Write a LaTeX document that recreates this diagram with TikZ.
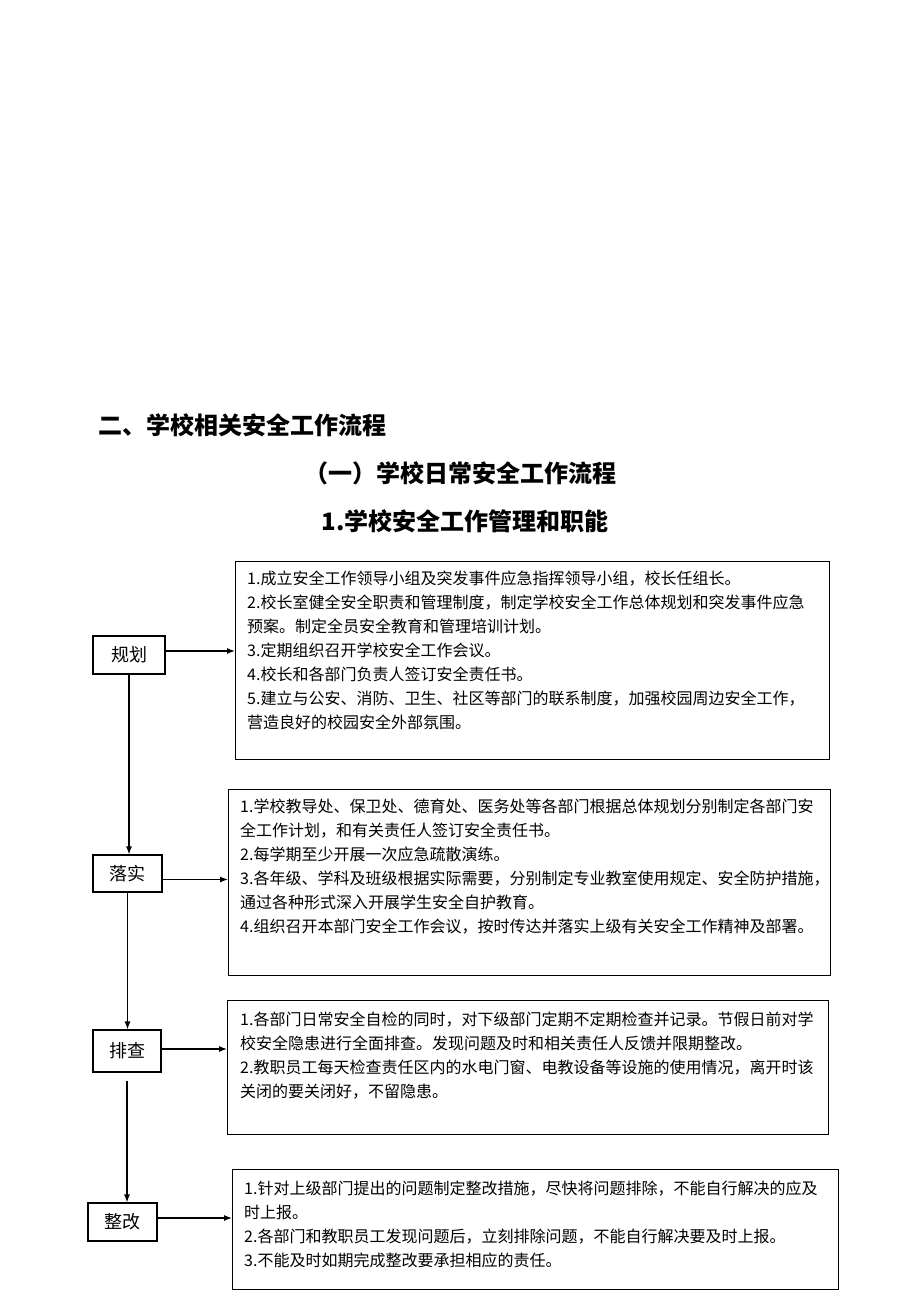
\documentclass[tikz,border=0pt]{standalone}
\usepackage{fontspec}
\setmainfont{Noto Sans CJK SC}
\usepackage{tikz}
\usetikzlibrary{arrows.meta}

\begin{document}
\begin{tikzpicture}[x=1pt,y=-1pt]
          \tikzstyle{head} = [inner sep=0pt, font=\fontsize{24}{28}\selectfont\bfseries]
          \tikzstyle{stage} = [rectangle, draw, line width=1.2pt, inner sep=0pt, font=\fontsize{18}{20}\selectfont]
          \tikzstyle{frame} = [rectangle, draw, line width=1.2pt, anchor=north west, inner sep=0pt]
          \tikzstyle{txt} = [anchor=north west, inner sep=0pt, align=left, font=\fontsize{16}{24}\selectfont]
          \tikzstyle{go} = [line width=1.2pt, -{Latex[length=8pt,width=6pt]}]
        \useasboundingbox (0,0) rectangle (920,1302);
        \node[head, anchor=west] (h1) at (98,425) {二、学校相关安全工作流程};
        \node[head] (h2) at (460,473) {（一）学校日常安全工作流程};
        \node[head] (h3) at (465,521) {1.学校安全工作管理和职能};
        \node[stage, minimum width=72pt, minimum height=38pt] (1) at (129,655) {规划};
        \node[stage, minimum width=69pt, minimum height=37pt] (2) at (127.5,873.5) {落实};
        \node[stage, minimum width=68pt, minimum height=42pt] (3) at (127,1051) {排查};
        \node[stage, minimum width=69pt, minimum height=38pt] (4) at (122.5,1222) {整改};
        \node[frame, minimum width=594pt, minimum height=198pt] (5) at (235,561) {};
        \node[frame, minimum width=602pt, minimum height=186pt] (6) at (228,789) {};
        \node[frame, minimum width=601pt, minimum height=134pt] (7) at (227,1000) {};
        \node[frame, minimum width=606pt, minimum height=120pt] (8) at (232,1169) {};
        \node[txt] (t5) at ([shift={(12,10)}]5.north west) {1.成立安全工作领导小组及突发事件应急指挥领导小组，校长任组长。\\
          2.校长室健全安全职责和管理制度，制定学校安全工作总体规划和突发事件应急\\
          预案。制定全员安全教育和管理培训计划。\\
          3.定期组织召开学校安全工作会议。\\
          4.校长和各部门负责人签订安全责任书。\\
          5.建立与公安、消防、卫生、社区等部门的联系制度，加强校园周边安全工作，\\
          营造良好的校园安全外部氛围。};
        \node[txt] (t6) at ([shift={(12,10)}]6.north west) {1.学校教导处、保卫处、德育处、医务处等各部门根据总体规划分别制定各部门安\\
          全工作计划，和有关责任人签订安全责任书。\\
          2.每学期至少开展一次应急疏散演练。\\
          3.各年级、学科及班级根据实际需要，分别制定专业教室使用规定、安全防护措施，\\
          通过各种形式深入开展学生安全自护教育。\\
          4.组织召开本部门安全工作会议，按时传达并落实上级有关安全工作精神及部署。};
        \node[txt] (t7) at ([shift={(13,12)}]7.north west) {1.各部门日常安全自检的同时，对下级部门定期不定期检查并记录。节假日前对学\\
          校安全隐患进行全面排查。发现问题及时和相关责任人反馈并限期整改。\\
          2.教职员工每天检查责任区内的水电门窗、电教设备等设施的使用情况，离开时该\\
          关闭的要关闭好，不留隐患。};
        \node[txt] (t8) at ([shift={(12,12)}]8.north west) {1.针对上级部门提出的问题制定整改措施，尽快将问题排除，不能自行解决的应及\\
          时上报。\\
          2.各部门和教职员工发现问题后，立刻排除问题，不能自行解决要及时上报。\\
          3.不能及时如期完成整改要承担相应的责任。};
        \begin{scope}
          \draw[go] ([yshift=4pt]1.east) -- ([yshift=4pt]1.east -| 5.west);
          \draw[go] ([yshift=-6pt]2.east) -- ([yshift=-6pt]2.east -| 6.west);
          \draw[go] ([yshift=2pt]3.east) -- ([yshift=2pt]3.east -| 7.west);
          \draw[go] ([yshift=4pt]4.east) -- ([yshift=4pt]4.east -| 8.west);
          \draw[go] (1.south) -- (1.south |- 2.north);
          \draw[go] (2.south) -- (2.south |- 3.north);
          \draw[go, shorten <=8pt] (3.south) -- (3.south |- 4.north);
        \end{scope}
      \end{tikzpicture}
\end{document}
